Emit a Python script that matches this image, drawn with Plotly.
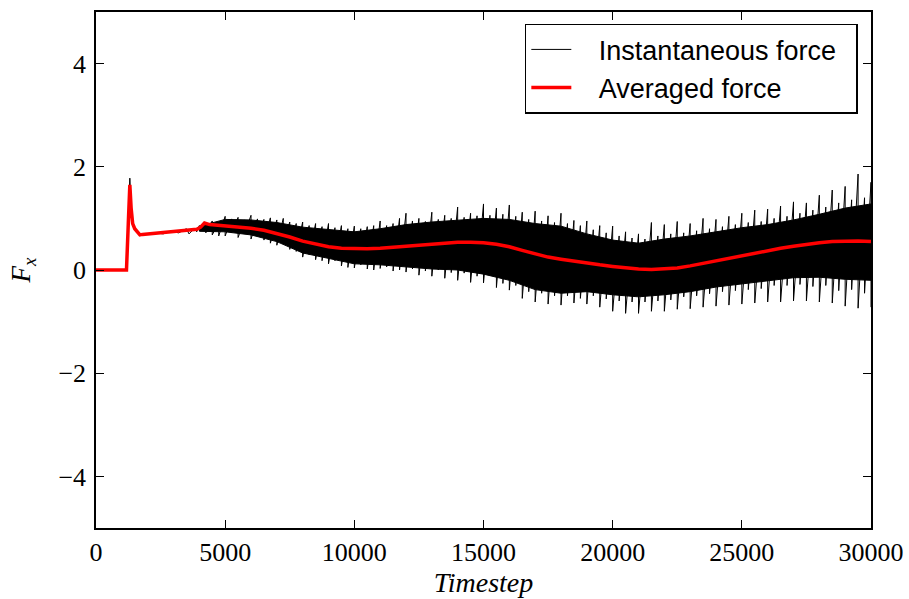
import plotly.graph_objects as go

# ---- data ----
# Averaged force (red)
avg_t = [0, 1180, 1250, 1310, 1360, 1420, 1500, 1600, 1700, 1800, 2000, 2500, 3000, 3500, 3900,
         4050, 4200, 4400, 5000, 5500, 6000, 6500, 7000, 7500, 8000, 8500, 9000, 9500, 10000,
         10500, 11000, 11500, 12000, 12500, 13000, 13500, 14000, 14500, 15000, 15500, 16000,
         16500, 17000, 17500, 18000, 18500, 19000, 19500, 20000, 20500, 21000, 21500, 22000,
         22500, 23000, 23500, 24000, 24500, 25000, 25500, 26000, 26500, 27000, 27500, 28000,
         28500, 29000, 29500, 30000]
avg_f = [0.0, 0.0, 0.9, 1.65, 1.2, 0.9, 0.8, 0.73, 0.68, 0.69, 0.70, 0.71, 0.74, 0.77, 0.79,
         0.83, 0.91, 0.88, 0.86, 0.84, 0.81, 0.77, 0.71, 0.64, 0.56, 0.50, 0.45, 0.42, 0.41,
         0.41, 0.42, 0.44, 0.46, 0.49, 0.51, 0.53, 0.54, 0.54, 0.53, 0.50, 0.45,
         0.38, 0.31, 0.25, 0.21, 0.17, 0.13, 0.10, 0.07, 0.04, 0.02, 0.01, 0.02,
         0.04, 0.08, 0.13, 0.18, 0.23, 0.28, 0.33, 0.38, 0.42, 0.46, 0.50, 0.53,
         0.55, 0.56, 0.56, 0.55]

# Instantaneous force: early part (before the noise band)
early_t = [0, 1180, 1250, 1310, 1360, 1420, 1500, 1600, 1700, 1800, 2000, 2300, 2600, 2900,
           3200, 3500, 3600, 3800, 3900]
early_f = [0.0, 0.0, 1.0, 1.78, 1.25, 0.92, 0.8, 0.72, 0.67, 0.7, 0.69, 0.72, 0.7, 0.75,
           0.72, 0.8, 0.7, 0.8, 0.74]

# Instantaneous force: upper / lower spike tips every 250 timesteps
spike_t = list(range(4000, 30001, 250))
spike_up = [0.86, 0.88, 0.95, 0.92, 1.04, 0.99, 1.02, 0.97, 1.06, 0.99, 0.98, 1.01,
            0.97, 1.0, 0.93, 0.9, 0.93, 0.86, 0.9, 0.84, 0.9, 0.82, 0.86, 0.8,
            0.85, 0.8, 0.84, 0.86, 0.95, 0.86, 0.9, 1.0, 1.1, 0.95, 1.0, 0.94,
            1.12, 0.98, 1.06, 1.0, 1.22, 1.02, 1.1, 1.05, 1.28, 1.06, 1.2, 1.08,
            1.26, 1.04, 1.12, 0.98, 1.14, 0.95, 1.05, 0.92, 1.1, 0.9, 0.96, 0.86,
            0.95, 0.78, 0.86, 0.72, 0.85, 0.66, 0.74, 0.62, 0.7, 0.6, 0.92, 0.66,
            0.88, 0.7, 0.94, 0.72, 0.9, 0.76, 1.0, 0.8, 0.98, 0.84, 1.04, 0.88,
            1.1, 0.92, 1.16, 0.94, 1.18, 1.0, 1.24, 1.04, 1.32, 1.1, 1.3, 1.16,
            1.45, 1.22, 1.55, 1.3, 1.62, 1.36, 1.86, 1.4, 1.7]
spike_dn = [0.76, 0.72, 0.68, 0.66, 0.66, 0.72, 0.63, 0.7, 0.6, 0.66, 0.58, 0.52,
            0.48, 0.52, 0.4, 0.36, 0.25, 0.3, 0.2, 0.18, 0.12, 0.18, 0.08, 0.05,
            0.04, 0.1, 0.02, 0.0, 0.03, 0.06, -0.02, 0.0, -0.04, 0.02, -0.1, -0.02,
            -0.12, 0.0, -0.16, -0.05, -0.2, -0.06, -0.24, -0.12, -0.25, -0.1, -0.34, -0.26,
            -0.39, -0.3, -0.55, -0.42, -0.62, -0.45, -0.66, -0.5, -0.68, -0.5, -0.64, -0.55,
            -0.66, -0.5, -0.72, -0.56, -0.8, -0.6, -0.84, -0.62, -0.84, -0.62, -0.8, -0.6,
            -0.8, -0.58, -0.76, -0.52, -0.75, -0.5, -0.72, -0.46, -0.7, -0.42, -0.68, -0.4,
            -0.66, -0.38, -0.64, -0.36, -0.62, -0.3, -0.62, -0.3, -0.6, -0.28, -0.6, -0.32,
            -0.62, -0.3, -0.64, -0.4, -0.7, -0.38, -0.74, -0.45, -0.72]

# Instantaneous force: dense core of the noise band every 1000 timesteps
core_t = list(range(4000, 30001, 1000))
core_hi = [0.85, 0.98, 0.97, 0.92, 0.83, 0.78, 0.74, 0.8, 0.88, 0.93, 0.97, 1.0, 0.98, 0.9,
           0.85, 0.7, 0.58, 0.52, 0.6, 0.66, 0.74, 0.82, 0.88, 0.97, 1.08, 1.2, 1.28]
core_lo = [0.75, 0.74, 0.68, 0.55, 0.33, 0.22, 0.12, 0.1, 0.06, 0.02, 0.0, -0.08, -0.2, -0.38,
           -0.45, -0.42, -0.48, -0.52, -0.48, -0.42, -0.33, -0.27, -0.22, -0.15, -0.14, -0.18,
           -0.2]

x_ticks = [0, 5000, 10000, 15000, 20000, 25000, 30000]
y_ticks = [-4, -2, 0, 2, 4]

# interleave upper and lower tips into one line path
inst_t = list(early_t)
inst_f = list(early_f)
for t, u, d in zip(spike_t, spike_up, spike_dn):
    inst_t += [t, t]
    inst_f += [u, d]

NB = "\u00a0"

fig = go.Figure()

fig.add_trace(go.Scatter(x=core_t, y=core_lo, mode="lines", line=dict(color="black", width=1),
                         showlegend=False, hoverinfo="skip"))
fig.add_trace(go.Scatter(x=core_t, y=core_hi, mode="lines", line=dict(color="black", width=1),
                         fill="tonexty", fillcolor="black", showlegend=False, hoverinfo="skip"))
fig.add_trace(go.Scatter(x=inst_t, y=inst_f, mode="lines",
                         line=dict(color="black", width=1),
                         name=NB * 3 + "Instantaneous force" + NB * 2))
fig.add_trace(go.Scatter(x=avg_t, y=avg_f, mode="lines",
                         line=dict(color="#ff0000", width=3.5),
                         name=NB * 3 + "Averaged force"))

serif = "Liberation Serif"
axis_common = dict(showline=True, linecolor="black", linewidth=1.5, mirror="allticks",
                   ticks="inside", ticklen=8, tickwidth=1, tickcolor="black",
                   showgrid=False, zeroline=False, automargin=False,
                   tickfont=dict(family=serif, size=26, color="black"))

fig.update_layout(
    width=909, height=599,
    margin=dict(l=96, r=38, t=12, b=71),
    paper_bgcolor="white", plot_bgcolor="white",
    xaxis=dict(range=[0, 30000], tickvals=x_ticks, tickformat="d", ticklabelstandoff=0,
               title=dict(text="<i>Timestep</i>", font=dict(family=serif, size=28, color="black"),
                          standoff=3),
               **axis_common),
    yaxis=dict(range=[-5, 5], tickvals=y_ticks, ticklabelstandoff=3,
               title=dict(text="<i>F</i><sub><i>x</i></sub>",
                          font=dict(family=serif, size=27, color="black"), standoff=20),
               **axis_common),
    legend=dict(x=0.983, y=0.977, xanchor="right", yanchor="top", traceorder="normal",
                bgcolor="white", bordercolor="black", borderwidth=1.5,
                font=dict(family="Liberation Sans", size=27, color="black"),
                tracegroupgap=0, itemwidth=40),
    showlegend=True,
)

fig.write_html("out.html")
